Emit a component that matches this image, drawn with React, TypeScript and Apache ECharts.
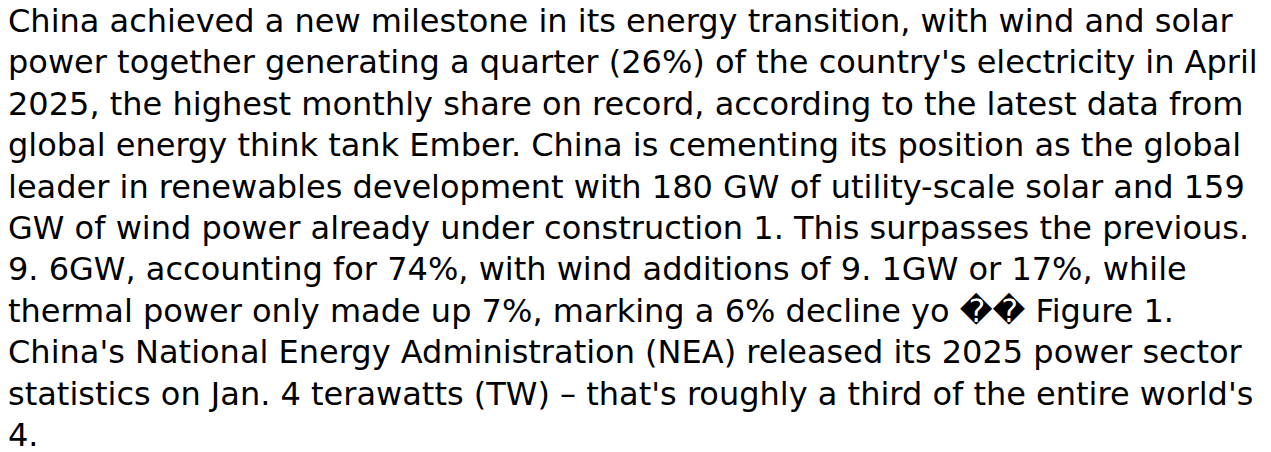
import React, { useEffect, useRef } from "react";
import * as echarts from "echarts";

const lines: string[] = [
  "China achieved a new milestone in its energy transition, with wind and solar",
  "power together generating a quarter (26%) of the country's electricity in April",
  "2025, the highest monthly share on record, according to the latest data from",
  "global energy think tank Ember. China is cementing its position as the global",
  "leader in renewables development with 180 GW of utility-scale solar and 159",
  "GW of wind power already under construction 1. This surpasses the previous.",
  "9. 6GW, accounting for 74%, with wind additions of 9. 1GW or 17%, while",
  "thermal power only made up 7%, marking a 6% decline yo \uFFFD\uFFFD Figure 1.",
  "China's National Energy Administration (NEA) released its 2025 power sector",
  "statistics on Jan. 4 terawatts (TW) \u2013 that's roughly a third of the entire world's",
  "4.",
];

const FONT_SIZE = 32;
const FIRST_BASELINE = 32;
const LINE_PITCH = 41.4;
const LEFT = 8;

export default function App() {
  const ref = useRef<HTMLDivElement>(null);
  useEffect(() => {
    document.body.style.margin = "0";
    const chart = echarts.init(ref.current!, undefined, { renderer: "svg" });
    chart.setOption({
      animation: false,
      backgroundColor: "#ffffff",
      graphic: lines.map((t, i) => ({
        type: "text",
        x: LEFT,
        y: FIRST_BASELINE + i * LINE_PITCH - FONT_SIZE * 0.346,
        style: {
          text: t,
          fill: "#000000",
          font: `${FONT_SIZE}px "DejaVu Sans"`,
          textAlign: "left",
          textVerticalAlign: "middle",
        },
      })),
    });
    return () => chart.dispose();
  }, []);
  return <div ref={ref} style={{ width: 1271, height: 452 }} />;
}
